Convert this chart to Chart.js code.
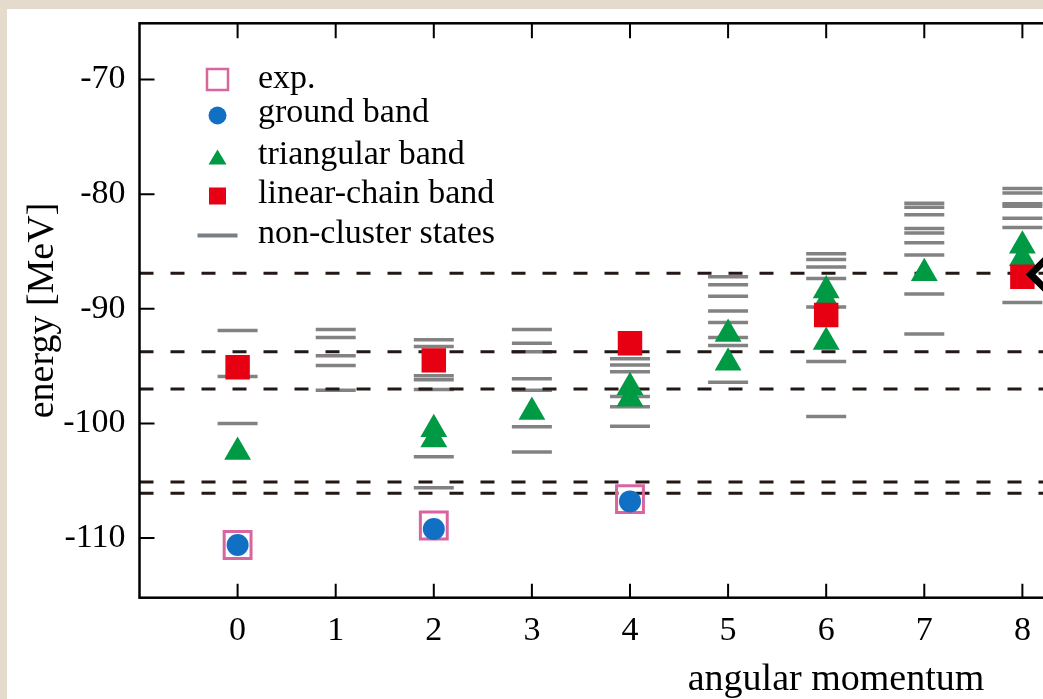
<!DOCTYPE html>
<html>
<head>
<meta charset="utf-8">
<script src="https://cdn.jsdelivr.net/npm/chart.js@4.4.1/dist/chart.umd.min.js"></script>
<style>
  html, body { margin: 0; padding: 0; width: 1043px; height: 699px; overflow: hidden; background: #e4dbcd; }
  #card { position: absolute; left: 7px; top: 9px; width: 1600px; height: 700px; background: #fff; }
  canvas { display: block; }
</style>
</head>
<body>
<div id="card"><canvas id="levels" width="1560" height="690"></canvas></div>
<script>
// tick labels
const xTicks = [0, 1, 2, 3, 4, 5, 6, 7, 8, 9, 10, 11, 12];
const yTicks = [-110, -100, -90, -80, -70];

// experiment (open squares)
const expJ = [0, 2, 4];
const expE = [-110.6, -108.9, -106.6];

// ground band (circles)
const groundJ = [0, 2, 4];
const groundE = [-110.6, -109.2, -106.8];

// triangular band
const triJ = [0, 2, 2, 3, 4, 4, 5, 5, 6, 6, 6, 7, 8, 8];
const triE = [-102.5, -100.5, -101.4, -99.0, -96.85, -97.85, -92.2, -94.7, -88.4, -89.3, -92.9, -86.9, -84.5, -85.6];

// linear-chain band
const chainJ = [0, 2, 4, 6, 8];
const chainE = [-95.1, -94.5, -93.0, -90.55, -87.2];

// non-cluster states, one list per J = 0..8
const nonCluster = [
  [-91.9, -95.9, -100.0],
  [-91.8, -92.5, -94.1, -94.95, -97.1],
  [-92.7, -93.3, -95.85, -96.2, -97.05, -102.9, -105.6],
  [-91.8, -93.0, -93.75, -96.1, -97.1, -100.3, -102.5],
  [-94.35, -94.9, -95.5, -97.65, -98.55, -100.25],
  [-87.2, -87.9, -88.9, -90.2, -91.2, -92.5, -93.2, -96.4],
  [-85.2, -85.7, -86.35, -87.35, -89.85, -94.6, -99.4],
  [-80.8, -81.15, -81.8, -83.0, -83.4, -84.25, -85.3, -88.7, -92.2],
  [-79.5, -79.9, -80.85, -81.05, -82.1, -82.9, -89.45]
];

// dashed threshold lines
const thresholds = [-86.9, -93.75, -97.0, -105.1, -106.1];

// black outlined marker at the right edge
const markJ = [8.34];
const markE = [-87.0];

const X_MIN = -1, X_MAX = 13.2, Y_MIN = -115.2, Y_MAX = -65.1;
const FONT = "'Liberation Serif', 'Times New Roman', serif";

const pts = (js, es) => js.map((j, i) => ({ x: j, y: es[i] }));

const datasets = [];

const barPts = [];
nonCluster.forEach((list, j) => list.forEach(e => barPts.push({ x: j, y: e })));
datasets.push({
  label: 'non-cluster states', data: barPts, order: 6,
  pointStyle: 'line', pointRadius: 20, borderColor: '#828282', borderWidth: 3.5
});

thresholds.forEach(v => datasets.push({
  type: 'line', label: 'threshold', data: [{ x: X_MIN, y: v }, { x: X_MAX, y: v }], order: 5,
  borderColor: '#231815', borderWidth: 3, borderDash: [14, 17], pointRadius: 0, showLine: true
}));

datasets.push({
  label: 'exp.', data: pts(expJ, expE), order: 4,
  pointStyle: 'rect', pointRadius: 19, backgroundColor: 'rgba(0,0,0,0)', borderColor: '#d8659f', borderWidth: 3
});
datasets.push({
  label: 'ground band', data: pts(groundJ, groundE), order: 3,
  pointStyle: 'circle', pointRadius: 11, backgroundColor: '#1170c4', borderWidth: 0
});
datasets.push({
  label: 'triangular band', data: pts(triJ, triE), order: 2,
  pointStyle: 'triangle', pointRadius: 15.5, backgroundColor: '#009944', borderWidth: 0
});
datasets.push({
  label: 'linear-chain band', data: pts(chainJ, chainE), order: 1,
  pointStyle: 'rect', pointRadius: 17.3, backgroundColor: '#e60012', borderWidth: 0
});
datasets.push({
  label: 'mark', data: pts(markJ, markE), order: 0,
  pointStyle: 'rectRot', pointRadius: 25, backgroundColor: 'rgba(0,0,0,0)', borderColor: '#000', borderWidth: 7
});

// frame with inward ticks + legend
const framePlugin = {
  id: 'frame',
  afterDatasetsDraw(chart) {
    const { ctx, chartArea: a, scales: { x, y } } = chart;
    ctx.save();
    ctx.strokeStyle = '#000';
    ctx.lineWidth = 2;
    ctx.beginPath();
    xTicks.forEach(v => {
      const px = x.getPixelForValue(v);
      ctx.moveTo(px, a.bottom); ctx.lineTo(px, a.bottom - 14);
      ctx.moveTo(px, a.top); ctx.lineTo(px, a.top + 15);
    });
    yTicks.forEach(v => {
      const py = y.getPixelForValue(v);
      ctx.moveTo(a.left, py); ctx.lineTo(a.left + 15, py);
      ctx.moveTo(a.right, py); ctx.lineTo(a.right - 15, py);
    });
    ctx.stroke();
    ctx.lineWidth = 2.5;
    ctx.strokeRect(a.left, a.top, a.width, a.height);
    ctx.restore();
  },
  afterDraw(chart) {
    const ctx = chart.ctx;
    const sx = 210.5, tx = 251;
    const rows = [70.5, 106.5, 148, 187, 226.5];
    ctx.save();
    // exp.
    ctx.strokeStyle = '#d8659f'; ctx.lineWidth = 2.5;
    ctx.strokeRect(sx - 10.5, rows[0] - 10.5, 21, 21);
    // ground band
    ctx.fillStyle = '#1170c4';
    ctx.beginPath(); ctx.arc(sx, rows[1], 9, 0, Math.PI * 2); ctx.fill();
    // triangular band
    ctx.fillStyle = '#009944';
    ctx.beginPath();
    ctx.moveTo(sx, rows[2] - 7.5); ctx.lineTo(sx + 9, rows[2] + 7.5); ctx.lineTo(sx - 9, rows[2] + 7.5);
    ctx.closePath(); ctx.fill();
    // linear-chain band
    ctx.fillStyle = '#e60012';
    ctx.fillRect(sx - 8.5, rows[3] - 8.5, 17, 17);
    // non-cluster states
    ctx.strokeStyle = '#787e85'; ctx.lineWidth = 4;
    ctx.beginPath(); ctx.moveTo(sx - 20, rows[4]); ctx.lineTo(sx + 20, rows[4]); ctx.stroke();

    ctx.fillStyle = '#000';
    ctx.font = '34px ' + FONT;
    ctx.textBaseline = 'alphabetic';
    ctx.textAlign = 'left';
    const names = ['exp.', 'ground band', 'triangular band', 'linear-chain band', 'non-cluster states'];
    const textRows = [71, 105.7, 147.7, 186.8, 226.8];
    names.forEach((n, i) => ctx.fillText(n, tx, textRows[i] + 7.5));
    ctx.restore();
  }
};

Chart.defaults.font.family = FONT;
Chart.defaults.color = '#000';

new Chart(document.getElementById('levels'), {
  type: 'scatter',
  data: { datasets },
  options: {
    responsive: false,
    animation: false,
    events: [],
    layout: { autoPadding: false, padding: { top: 14.3, right: 34.5, left: 0, bottom: 0 } },
    plugins: { legend: { display: false }, tooltip: { enabled: false } },
    scales: {
      x: {
        type: 'linear', min: X_MIN, max: X_MAX,
        afterBuildTicks: s => { s.ticks = xTicks.map(v => ({ value: v })); },
        afterFit: s => { s.height = 101.3; s.paddingLeft = 0; s.paddingRight = 0; },
        grid: { display: false, drawTicks: false },
        border: { display: false },
        ticks: { padding: 13, font: { size: 34 } },
        title: { display: true, text: 'angular momentum', font: { size: 38 }, padding: { top: 0, bottom: -4 } }
      },
      y: {
        type: 'linear', min: Y_MIN, max: Y_MAX,
        afterBuildTicks: s => { s.ticks = yTicks.map(v => ({ value: v })); },
        afterFit: s => { s.width = 132.5; s.paddingTop = 0; s.paddingBottom = 0; },
        grid: { display: false, drawTicks: false },
        border: { display: false },
        ticks: { padding: 14, font: { size: 34 } },
        title: { display: true, text: 'energy [MeV]', font: { size: 38 }, padding: { top: 13, bottom: 0 } }
      }
    }
  },
  plugins: [framePlugin]
});
</script>
</body>
</html>
